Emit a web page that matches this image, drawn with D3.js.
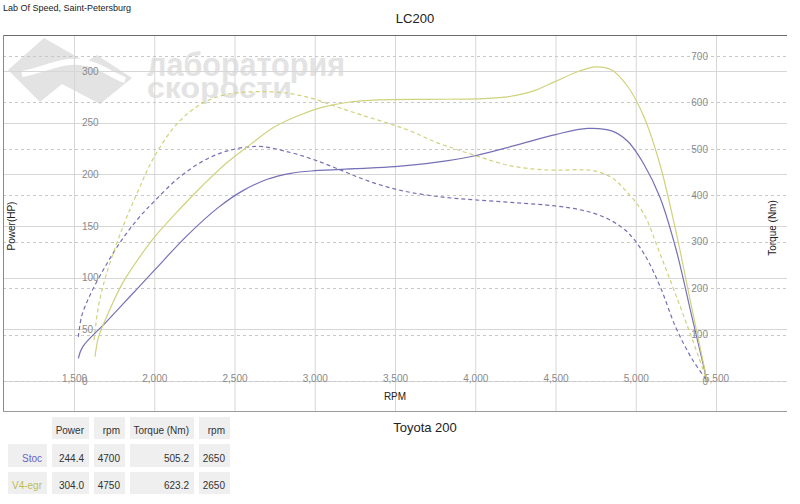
<!DOCTYPE html>
<html><head><meta charset="utf-8">
<script src="https://cdn.jsdelivr.net/npm/d3@7"></script>
<style>
body{margin:0;background:#fff;}
text{font-family:"Liberation Sans",Arial,sans-serif;}
</style></head>
<body><svg id="c" width="800" height="504"></svg>
<script>
// ---- data ----
const rpmTicks = [1500,2000,2500,3000,3500,4000,4500,5000,5500];
const powerTicks = [0,50,100,150,200,250,300];
const torqueTicks = [0,100,200,300,400,500,600,700];

const stocPowerRpm = [1527,1554,1700,1850,2000,2200,2400,2550,2700,2850,3000,3250,3500,3750,4000,4250,4500,4700,4850,4950,5050,5150,5250,5350,5445];
const stocPowerHp  = [22,33,57,82,107,140,168,184,195,201,203.5,205.5,207.5,211.5,218,228,238.5,244.4,242,232,210,178,128,62,0];

const stocTorqueRpm = [1527,1548,1600,1700,1800,1900,2000,2150,2300,2450,2650,2850,3000,3150,3300,3450,3600,3800,4000,4250,4500,4650,4750,4850,4950,5050,5150,5250,5350,5445];
const stocTorqueNm  = [95,140,185,250,305,350,387,437,473,495,505.2,492,476,456,435,418,406,396,390,384,377,369,360,345,320,275,205,115,48,0];

const v4PowerRpm = [1631,1652,1700,1800,1900,2000,2150,2300,2450,2600,2750,2900,3050,3200,3400,3700,4000,4200,4350,4500,4650,4750,4850,4950,5050,5150,5250,5350,5445];
const v4PowerHp  = [23.5,42,61,94,118,139,165,189,211,229,246,257,265,269.5,272,272.6,273,275,280,290,300,304,301,285,256,210,145,70,0];

const v4TorqueRpm = [1625,1652,1700,1800,1900,2000,2150,2300,2450,2650,2850,3000,3150,3300,3450,3600,3750,3900,4050,4200,4350,4500,4650,4750,4850,4950,5050,5150,5250,5350,5445];
const v4TorqueNm  = [88,160,228,328,410,483,557,598,617,623.2,619,607,589,572,556,538,515,497,480,465,457,454,455,452,438,405,360,275,185,92,0];

const seriesNames = ["Stoc","V4-egr"];
const seriesColors = ["#7670b6","#d0d27c"];
const labelColors = ["#6a62c4","#bdbd55"];
const tableHeader = ["Power","rpm","Torque (Nm)","rpm"];
const tableRows = [["244.4","4700","505.2","2650"],["304.0","4750","623.2","2650"]];

// ---- drawing ----
const svg = d3.select("#c");
const x = d3.scaleLinear().domain([1500,5500]).range([74,716]);
const yP = d3.scaleLinear().domain([0,300]).range([381,71]);
const yT = d3.scaleLinear().domain([0,700]).range([381,56]);

// watermark
const wm = svg.append("g").attr("fill","#e3e3e3");
wm.append("path").attr("d","M8,70 L44,38 L86,62 L97,55 L132,78 L100,104 L62,84 L40,102 Z");
wm.append("path").attr("d","M22,74 C45,70 60,60 80,62 C100,64 110,75 125,80").attr("fill","none").attr("stroke","#fff").attr("stroke-width",6);
wm.append("text").attr("x",147).attr("y",76).attr("font-size",34).attr("font-weight","bold")
  .attr("textLength",198).attr("lengthAdjust","spacingAndGlyphs").attr("font-family","DejaVu Sans").text("лаборатория");
wm.append("text").attr("x",147).attr("y",98).attr("font-size",30).attr("font-weight","bold")
  .attr("textLength",145).attr("lengthAdjust","spacingAndGlyphs").attr("font-family","DejaVu Sans").text("скорости");

// vertical grid
svg.append("g").selectAll("line").data(rpmTicks).join("line")
  .attr("x1",d=>x(d)+0.5).attr("x2",d=>x(d)+0.5).attr("y1",35).attr("y2",411)
  .attr("stroke","#d6d6d6");
// power grid (solid)
svg.append("g").selectAll("line").data(powerTicks).join("line")
  .attr("x1",3).attr("x2",787).attr("y1",d=>Math.round(yP(d))+0.5).attr("y2",d=>Math.round(yP(d))+0.5)
  .attr("stroke","#d6d6d6");
// torque grid (dashed)
svg.append("g").selectAll("line").data(torqueTicks).join("line")
  .attr("x1",3).attr("x2",787).attr("y1",d=>Math.round(yT(d))+0.5).attr("y2",d=>Math.round(yT(d))+0.5)
  .attr("stroke","#c8c8c8").attr("stroke-dasharray","3,3");

// frame
svg.append("line").attr("x1",3).attr("x2",787).attr("y1",35.5).attr("y2",35.5).attr("stroke","#6a6a6a");
svg.append("line").attr("x1",3.5).attr("x2",3.5).attr("y1",35).attr("y2",412).attr("stroke","#8a8a8a");
svg.append("line").attr("x1",3).attr("x2",787).attr("y1",411.5).attr("y2",411.5).attr("stroke","#9a9a9a");

// axes labels
const gx = svg.append("g").attr("transform","translate(0,381)")
  .call(d3.axisBottom(x).tickValues(rpmTicks).tickSize(0).tickFormat(d3.format(",")));
gx.select(".domain").remove();
gx.selectAll("text").attr("y",-6).attr("fill","#8a8a8a").attr("font-size",10).attr("font-family","Liberation Sans, Arial");

const gp = svg.append("g").attr("transform","translate(74,0)")
  .call(d3.axisRight(yP).tickValues(powerTicks).tickSize(0).tickPadding(8));
gp.select(".domain").remove();
gp.selectAll("text").attr("fill","#8a8a8a").attr("font-size",10).attr("font-family","Liberation Sans, Arial");

const gt = svg.append("g").attr("transform","translate(716,0)")
  .call(d3.axisLeft(yT).tickValues(torqueTicks).tickSize(0).tickPadding(8));
gt.select(".domain").remove();
gt.selectAll("text").attr("fill","#8a8a8a").attr("font-size",10).attr("font-family","Liberation Sans, Arial");

// curves
const mk = (rpms, vals) => rpms.map((r,i)=>[r,vals[i]]);
const lineP = d3.line().x(d=>x(d[0])).y(d=>yP(d[1])).curve(d3.curveCatmullRom.alpha(0.5));
const lineT = d3.line().x(d=>x(d[0])).y(d=>yT(d[1])).curve(d3.curveCatmullRom.alpha(0.5));
const curves = [
  {d:mk(stocTorqueRpm,stocTorqueNm), l:lineT, c:0, dash:"4,3"},
  {d:mk(v4TorqueRpm,v4TorqueNm), l:lineT, c:1, dash:"4,3"},
  {d:mk(stocPowerRpm,stocPowerHp), l:lineP, c:0, dash:null},
  {d:mk(v4PowerRpm,v4PowerHp), l:lineP, c:1, dash:null}
];
svg.append("g").selectAll("path").data(curves).join("path")
  .attr("d",c=>c.l(c.d)).attr("fill","none").attr("stroke",c=>seriesColors[c.c])
  .attr("stroke-width",1.2).attr("stroke-dasharray",c=>c.dash);

// titles
svg.append("text").attr("x",3).attr("y",11).attr("font-size",9).attr("fill","#222").text("Lab Of Speed, Saint-Petersburg");
svg.append("text").attr("x",415).attr("y",23).attr("text-anchor","middle").attr("font-size",13).attr("fill","#222").text("LC200");
svg.append("text").attr("x",395).attr("y",400).attr("text-anchor","middle").attr("font-size",10).attr("fill","#222").text("RPM");
svg.append("text").attr("transform","translate(15,226) rotate(-90)").attr("text-anchor","middle").attr("font-size",10).attr("fill","#222").text("Power(HP)");
svg.append("text").attr("transform","translate(776,228) rotate(-90)").attr("text-anchor","middle").attr("font-size",10).attr("fill","#222").text("Torque (Nm)");
svg.append("text").attr("x",425).attr("y",432).attr("text-anchor","middle").attr("font-size",13).attr("fill","#222").text("Toyota 200");

// table
const colX = [[8,47],[52,89],[94,125],[130,194],[199,230]];
const rowY = [[417,439],[444,467],[472,494]];
const tbl = svg.append("g");
const cells = [];
tableHeader.forEach((h,i)=>cells.push({r:0,c:i+1,t:h,col:"#333"}));
tableRows.forEach((row,ri)=>{
  cells.push({r:ri+1,c:0,t:seriesNames[ri],col:labelColors[ri]});
  row.forEach((v,ci)=>cells.push({r:ri+1,c:ci+1,t:v,col:"#333"}));
});
tbl.selectAll("rect").data(cells).join("rect")
  .attr("x",d=>colX[d.c][0]).attr("y",d=>rowY[d.r][0])
  .attr("width",d=>colX[d.c][1]-colX[d.c][0]).attr("height",d=>rowY[d.r][1]-rowY[d.r][0])
  .attr("fill","#efefef");
tbl.selectAll("text").data(cells).join("text")
  .attr("x",d=>colX[d.c][1]-5).attr("y",d=>rowY[d.r][1]-5)
  .attr("text-anchor","end").attr("font-size",10).attr("fill",d=>d.col).text(d=>d.t);
</script></body></html>
